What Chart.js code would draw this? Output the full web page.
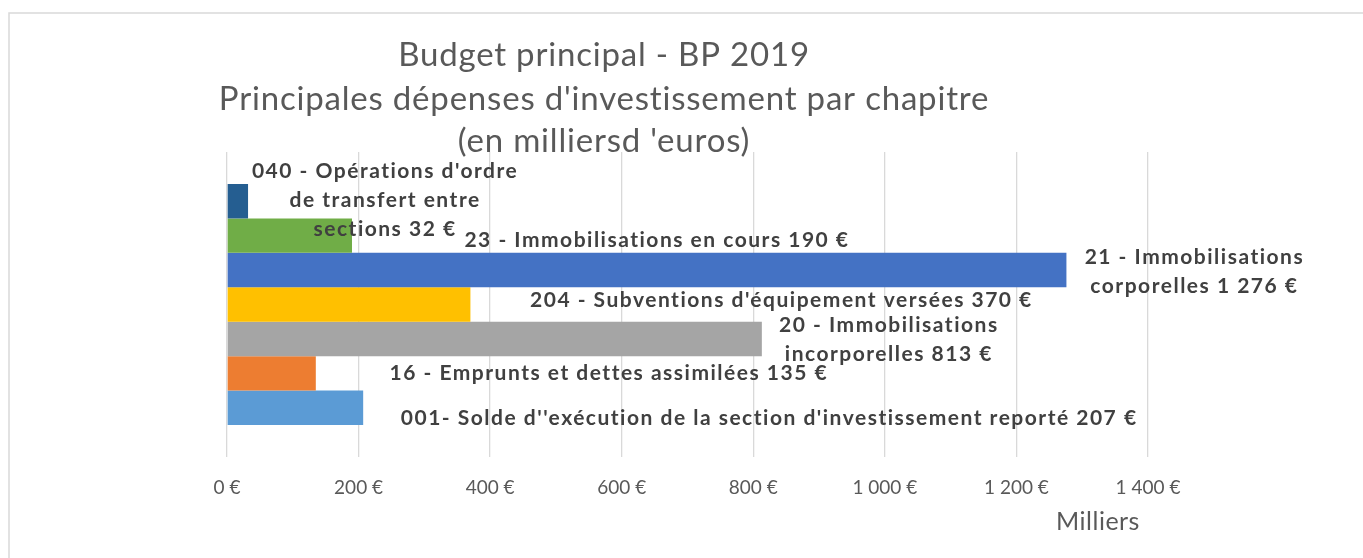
<!DOCTYPE html>
<html>
<head>
<meta charset="utf-8">
<script src="https://cdn.jsdelivr.net/npm/chart.js@4"></script>
<style>
  html, body { margin: 0; padding: 0; background: #fff; }
  #wrap { position: relative; width: 1363px; height: 558px; }
</style>
</head>
<body>
<div id="wrap"><canvas id="budgetChart" width="1363" height="558"></canvas></div>
<script>
// chapitres (series) et montants en milliers d'euros
const seriesNames = [
  "040 - Opérations d'ordre de transfert entre sections",
  "23 - Immobilisations en cours",
  "21 - Immobilisations corporelles",
  "204 - Subventions d'équipement versées",
  "20 - Immobilisations incorporelles",
  "16 - Emprunts et dettes assimilées",
  "001- Solde d''exécution de la section d'investissement reporté"
];
const seriesValues = [32, 190, 1276, 370, 813, 135, 207];
const seriesColors = ['#255E91', '#70AD47', '#4472C4', '#FFC000', '#A5A5A5', '#ED7D31', '#5B9BD5'];
const titleLines = ['Budget principal - BP 2019', "Principales dépenses d'investissement par chapitre", "(en milliersd 'euros)"];
const axisMin = 0, axisMax = 1400, axisStep = 200;
const axisUnit = 'Milliers';

// placement des étiquettes (décalage depuis le bout de la barre) et coupures de ligne
const labelOffsets = [[137, -1], [305, 5], [128, 2], [311, -4], [127, 1], [293, 0], [406, 10]];
const labelBreaks = [[4, 7], [], [3], [], [3], [], []];

const FONT = 'Lato, "Open Sans", sans-serif';

function euro(v) {
  return String(v).replace(/\B(?=(\d{3})+(?!\d))/g, '\u00a0') + '\u00a0€';
}

const decorPlugin = {
  id: 'decor',
  beforeDraw(chart) {
    const ctx = chart.ctx;
    ctx.save();
    ctx.strokeStyle = '#d9d9d9';
    ctx.lineWidth = 1.5;
    ctx.strokeRect(9, 13, 1400, 600);
    ctx.restore();
  },
  afterDatasetsDraw(chart) {
    const ctx = chart.ctx;
    ctx.save();
    // titre
    ctx.fillStyle = '#595959';
    ctx.font = '33px ' + FONT;
    ctx.letterSpacing = '0.8px';
    ctx.textAlign = 'center';
    ctx.textBaseline = 'middle';
    const ty = [55, 99, 141];
    titleLines.forEach((t, i) => ctx.fillText(t, 604, ty[i]));

    // unité de l'axe
    ctx.font = '25px ' + FONT;
    ctx.letterSpacing = '0.5px';
    ctx.fillText(axisUnit, 1098, 522);

    // étiquettes de données
    ctx.fillStyle = '#404040';
    ctx.font = 'bold 21px ' + FONT;
    ctx.letterSpacing = '1.5px';
    seriesNames.forEach((name, i) => {
      const bar = chart.getDatasetMeta(i).data[0];
      const words = (name + ' ' + euro(seriesValues[i])).split(' ');
      const cuts = [0, ...labelBreaks[i], words.length];
      const lines = [];
      for (let k = 0; k < cuts.length - 1; k++) lines.push(words.slice(cuts[k], cuts[k + 1]).join(' '));
      const lh = 29;
      const cx = bar.x + labelOffsets[i][0];
      const cy = bar.y + labelOffsets[i][1] - (lines.length - 1) * lh / 2;
      lines.forEach((l, k) => ctx.fillText(l, cx, cy + k * lh));
    });
    ctx.restore();
  }
};

new Chart(document.getElementById('budgetChart').getContext('2d'), {
  type: 'bar',
  data: {
    labels: [''],
    datasets: seriesNames.map((name, i) => ({
      label: name,
      data: [seriesValues[i]],
      backgroundColor: seriesColors[i],
      borderWidth: 0
    }))
  },
  options: {
    indexAxis: 'y',
    responsive: false,
    animation: false,
    categoryPercentage: 0.79,
    barPercentage: 1,
    layout: { padding: { left: 227, right: 215, top: 152, bottom: 0 } },
    plugins: {
      legend: { display: false },
      title: { display: false },
      tooltip: { enabled: false }
    },
    scales: {
      x: {
        min: axisMin,
        max: axisMax,
        afterFit(scale) { scale.height = 101; },
        grid: { color: '#d9d9d9', lineWidth: 1.3, drawTicks: false },
        border: { display: false },
        ticks: {
          stepSize: axisStep,
          padding: 19,
          color: '#595959',
          font: { family: FONT, size: 19 },
          callback: v => euro(v)
        }
      },
      y: { display: false }
    }
  },
  plugins: [decorPlugin]
});
</script>
</body>
</html>
